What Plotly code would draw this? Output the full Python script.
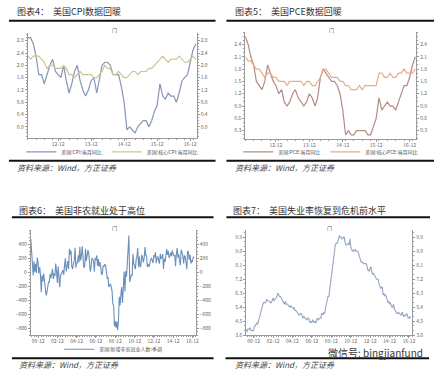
import plotly.graph_objects as go
import pandas as pd

W, H = 440, 377

# ---------------- data ----------------
months_short = pd.date_range("2012-01-01", "2017-02-01", freq="MS")
months_long = pd.date_range("2000-03-01", "2017-02-01", freq="MS")

cpi_yoy = [2.9, 2.9, 2.7, 2.3, 1.7, 1.7, 1.4, 1.7, 2.0, 2.2, 1.8, 1.7,
           1.6, 2.0, 1.5, 1.1, 1.4, 1.8, 2.0, 1.5, 1.2, 1.0, 1.2, 1.5,
           1.6, 1.1, 1.5, 2.0, 2.1, 2.1, 2.0, 1.7, 1.7, 1.7, 1.3, 0.8,
           -0.1, 0.0, -0.1, -0.2, 0.0, 0.1, 0.2, 0.2, 0.0, 0.2, 0.5, 0.7,
           1.4, 1.0, 0.9, 1.1, 1.0, 1.0, 0.8, 1.1, 1.5, 1.6, 1.7, 2.1,
           2.5, 2.7]
core_cpi_yoy = [2.3, 2.2, 2.3, 2.3, 2.3, 2.2, 2.1, 1.9, 2.0, 2.0, 1.9, 1.9,
                1.9, 2.0, 1.9, 1.7, 1.7, 1.6, 1.7, 1.8, 1.7, 1.7, 1.7, 1.7,
                1.6, 1.6, 1.7, 1.8, 2.0, 1.9, 1.9, 1.7, 1.7, 1.8, 1.7, 1.6,
                1.6, 1.7, 1.8, 1.8, 1.7, 1.8, 1.8, 1.8, 1.9, 1.9, 2.0, 2.1,
                2.2, 2.3, 2.2, 2.1, 2.2, 2.2, 2.2, 2.3, 2.2, 2.1, 2.1, 2.2,
                2.3, 2.2]
pce_yoy = [2.6, 2.4, 2.1, 1.9, 1.5, 1.4, 1.3, 1.5, 1.9, 1.7, 1.5, 1.4,
           1.2, 1.3, 1.0, 0.9, 1.0, 1.2, 1.3, 1.1, 1.0, 0.9, 1.0, 1.2,
           1.1, 0.9, 1.1, 1.6, 1.8, 1.7, 1.6, 1.5, 1.5, 1.4, 1.2, 0.8,
           0.2, 0.3, 0.2, 0.2, 0.3, 0.3, 0.3, 0.3, 0.2, 0.2, 0.4, 0.6,
           1.1, 0.8, 0.9, 1.0, 0.9, 0.9, 0.8, 1.0, 1.2, 1.4, 1.4, 1.6,
           1.9, 2.1]
core_pce_yoy = [2.1, 2.0, 2.0, 1.9, 1.8, 1.8, 1.7, 1.6, 1.7, 1.7, 1.6, 1.6,
                1.5, 1.5, 1.5, 1.4, 1.5, 1.5, 1.5, 1.5, 1.5, 1.4, 1.5, 1.5,
                1.4, 1.4, 1.5, 1.6, 1.8, 1.8, 1.7, 1.6, 1.6, 1.6, 1.5, 1.5,
                1.4, 1.4, 1.3, 1.3, 1.3, 1.4, 1.3, 1.4, 1.4, 1.4, 1.4, 1.4,
                1.7, 1.7, 1.6, 1.6, 1.7, 1.6, 1.6, 1.7, 1.7, 1.8, 1.7, 1.7,
                1.7, 1.8]
nonfarm_change = [472, 286, 228, -46, 157, 0, 120, -12, 208, 138,
                  -17, 70, -30, -284, -45, -130, -21, -154, -241, -331, -293, -178,
                  -134, -149, -24, -83, -9, 44, -97, -15, -55, 124, 8, -153,
                  83, -156, -214, -49, -10, 6, 27, -40, 104, 200, 12, 117,
                  160, 45, 335, 250, 310, 80, 45, 123, 163, 350, 65, 135,
                  135, 240, 143, 363, 168, 243, 370, 195, 63, 83, 334, 159,
                  278, 314, 283, 181, 8, 80, 203, 182, 159, 8, 204, 171,
                  239, 90, 189, 79, 143, 75, -34, -20, 88, 84, 114, 98,
                  17, -84, -78, -210, -185, -165, -209, -266, -452, -473, -770, -695,
                  -791, -703, -823, -686, -351, -470, -329, -212, -438, -178, 10, -275,
                  14, -63, 164, 243, 524, -137, -68, -36, -52, 262, 119, 87,
                  43, 189, 225, 346, 77, 225, 69, 110, 248, 209, 141, 209,
                  358, 237, 233, 78, 115, 76, 143, 177, 203, 146, 132, 244,
                  211, 286, 130, 197, 226, 162, 122, 261, 190, 212, 258, 47,
                  190, 151, 272, 329, 246, 304, 202, 230, 280, 227, 312, 255,
                  234, 238, 86, 262, 344, 206, 254, 157, 100, 321, 272, 239,
                  126, 237, 225, 153, 43, 297, 291, 176, 249, 124, 164, 155,
                  216, 219]
unemployment = [4.0, 3.8, 4.0, 4.0, 4.0, 4.1, 3.9, 3.9, 3.9, 3.9,
                4.2, 4.2, 4.3, 4.4, 4.3, 4.5, 4.6, 4.9, 5.0, 5.3, 5.5, 5.7,
                5.7, 5.7, 5.7, 5.9, 5.8, 5.8, 5.8, 5.7, 5.7, 5.7, 5.9, 6.0,
                5.8, 5.9, 5.9, 6.0, 6.1, 6.3, 6.2, 6.1, 6.1, 6.0, 5.8, 5.7,
                5.7, 5.6, 5.8, 5.6, 5.6, 5.6, 5.5, 5.4, 5.4, 5.5, 5.4, 5.4,
                5.3, 5.4, 5.2, 5.2, 5.1, 5.0, 5.0, 4.9, 5.0, 5.0, 5.0, 4.9,
                4.7, 4.8, 4.7, 4.7, 4.6, 4.6, 4.7, 4.7, 4.5, 4.4, 4.5, 4.4,
                4.6, 4.5, 4.4, 4.5, 4.4, 4.6, 4.7, 4.6, 4.7, 4.7, 4.7, 5.0,
                5.0, 4.9, 5.1, 5.0, 5.4, 5.6, 5.8, 6.1, 6.1, 6.5, 6.8, 7.3,
                7.8, 8.3, 8.7, 9.0, 9.4, 9.5, 9.5, 9.6, 9.8, 10.0, 9.9, 9.9,
                9.8, 9.8, 9.9, 9.9, 9.6, 9.4, 9.4, 9.5, 9.5, 9.4, 9.8, 9.3,
                9.1, 9.0, 9.0, 9.1, 9.0, 9.1, 9.0, 9.0, 9.0, 8.8, 8.6, 8.5,
                8.3, 8.3, 8.2, 8.2, 8.2, 8.2, 8.2, 8.1, 7.8, 7.8, 7.7, 7.9,
                8.0, 7.7, 7.5, 7.6, 7.5, 7.5, 7.3, 7.2, 7.2, 7.2, 6.9, 6.7,
                6.6, 6.7, 6.7, 6.2, 6.3, 6.1, 6.2, 6.1, 5.9, 5.7, 5.8, 5.6,
                5.7, 5.5, 5.4, 5.4, 5.6, 5.3, 5.2, 5.1, 5.0, 5.0, 5.1, 5.0,
                4.9, 4.9, 5.0, 5.1, 4.8, 4.9, 4.8, 4.9, 5.0, 4.9, 4.7, 4.7,
                4.8, 4.7]

short_tick_dates = ["2012-12-01", "2013-12-01", "2014-12-01", "2015-12-01", "2016-12-01"]
short_tick_labels = ["12-12", "13-12", "14-12", "15-12", "16-12"]
long_tick_dates = ["2000-12-01", "2002-12-01", "2004-12-01", "2006-12-01", "2008-12-01",
                   "2010-12-01", "2012-12-01", "2014-12-01", "2016-12-01"]
long_tick_labels = ["00-12", "02-12", "04-12", "06-12", "08-12", "10-12", "12-12", "14-12", "16-12"]

cpi_ticks = [0.0, 0.4, 0.8, 1.2, 1.6, 2.0, 2.4, 2.8]
pce_ticks = [0.3, 0.6, 0.9, 1.2, 1.5, 1.8, 2.1, 2.4]
nfp_ticks = [-800, -600, -400, -200, 0, 200, 400]
ur_ticks = [3.6, 4.5, 5.4, 6.3, 7.2, 8.1, 9.0, 9.9]

titles = ["图表4：  美国CPI数据回暖", "图表5：  美国PCE数据回暖",
          "图表6：  美国非农就业处于高位", "图表7：  美国失业率恢复到危机前水平"]
source_text = "资料来源：Wind，方正证券"
legend_names = ["美国:CPI:当月同比", "美国:核心CPI:当月同比",
                "美国:PCE:当月同比", "美国:核心PCE:当月同比",
                "美国:新增非农就业人数:季调"]

# ---------------- layout helpers ----------------
FONT = "Noto Sans CJK SC"
AXC = "#9a9a9a"
TICKC = "#666666"


def xd(a, b):
    return [a / W, b / W]


def yd(top, bottom):
    return [1 - bottom / H, 1 - top / H]


fig = go.Figure()

# panel 1
fig.add_trace(go.Scatter(x=months_short, y=cpi_yoy, mode="lines", name=legend_names[0],
                         line=dict(color="#8596b6", width=1.2), xaxis="x", yaxis="y", legend="legend"))
fig.add_trace(go.Scatter(x=months_short, y=core_cpi_yoy, mode="lines", name=legend_names[1],
                         line=dict(color="#cfc48e", width=1.2), xaxis="x", yaxis="y2", legend="legend"))
# panel 2
fig.add_trace(go.Scatter(x=months_short, y=pce_yoy, mode="lines", name=legend_names[2],
                         line=dict(color="#b48b83", width=1.2), xaxis="x2", yaxis="y3", legend="legend2"))
fig.add_trace(go.Scatter(x=months_short, y=core_pce_yoy, mode="lines", name=legend_names[3],
                         line=dict(color="#e9ad86", width=1.2), xaxis="x2", yaxis="y4", legend="legend2"))
# panel 3
fig.add_trace(go.Scatter(x=months_long, y=nonfarm_change, mode="lines", name=legend_names[4],
                         line=dict(color="#6b8fbb", width=1.1), xaxis="x3", yaxis="y5", legend="legend3"))
fig.add_trace(go.Scatter(x=months_long, y=nonfarm_change, mode="lines", showlegend=False,
                         hoverinfo="skip", opacity=0, xaxis="x3", yaxis="y6"))
# panel 4
fig.add_trace(go.Scatter(x=months_long, y=unemployment, mode="lines", showlegend=False,
                         line=dict(color="#95a7c2", width=1.1), xaxis="x4", yaxis="y7"))
fig.add_trace(go.Scatter(x=months_long, y=unemployment, mode="lines", showlegend=False,
                         hoverinfo="skip", opacity=0, xaxis="x4", yaxis="y8"))


def xaxis(domain, anchor, rng, tv, tt):
    return dict(domain=domain, anchor=anchor, type="date", range=rng,
                tickvals=tv, ticktext=tt, showline=True, linecolor=AXC, linewidth=1,
                ticks="outside", ticklen=2, tickcolor=AXC, showgrid=False, zeroline=False,
                ticklabelstandoff=-1,
                tickfont=dict(size=5, color=TICKC, family=FONT),
                minor=dict(ticks="outside", ticklen=1, tickcolor=AXC, dtick="M3"))


def yaxis(domain, anchor, rng, tv, fmt, side="left", overlay=None, minor_dt=None):
    d = dict(domain=domain, anchor=anchor, range=rng, tickvals=tv, tickformat=fmt,
             side=side, showline=True, linecolor=AXC, linewidth=1, ticks="outside",
             ticklen=2, tickcolor=AXC, showgrid=False, zeroline=False,
             tickfont=dict(size=5, color=TICKC, family=FONT))
    if minor_dt is not None:
        d["minor"] = dict(ticks="outside", ticklen=1, tickcolor=AXC, dtick=minor_dt)
    if overlay:
        d["overlaying"] = overlay
        d.pop("domain")
    return d


p1x, p1y = xd(28, 198), yd(33, 139)
p2x, p2y = xd(247, 419), yd(32, 140)
p3x, p3y = xd(31, 197), yd(232, 338)
p4x, p4y = xd(248, 415), yd(232, 338)

short_rng = ["2012-01-01", "2017-02-10"]
long_rng = ["2000-03-01", "2017-04-01"]

fig.update_layout(
    width=W, height=H, margin=dict(l=0, r=0, t=0, b=0),
    paper_bgcolor="white", plot_bgcolor="white",
    font=dict(family=FONT, color="#333333"),
    xaxis=xaxis(p1x, "y", short_rng, short_tick_dates, short_tick_labels),
    yaxis=yaxis(p1y, "x", [-0.36, 3.06], cpi_ticks, ".1f", minor_dt=0.1),
    yaxis2=yaxis(p1y, "x", [-0.36, 3.06], cpi_ticks, ".1f", side="right", overlay="y", minor_dt=0.1),
    xaxis2=xaxis(p2x, "y3", short_rng, short_tick_dates, short_tick_labels),
    yaxis3=yaxis(p2y, "x2", [0.1, 2.71], pce_ticks, ".1f", minor_dt=0.1),
    yaxis4=yaxis(p2y, "x2", [0.1, 2.71], pce_ticks, ".1f", side="right", overlay="y3", minor_dt=0.1),
    xaxis3=xaxis(p3x, "y5", long_rng, long_tick_dates, long_tick_labels),
    yaxis5=yaxis(p3y, "x3", [-900, 600], nfp_ticks, "d", minor_dt=50),
    yaxis6=yaxis(p3y, "x3", [-900, 600], nfp_ticks, "d", side="right", overlay="y5", minor_dt=50),
    xaxis4=xaxis(p4x, "y7", long_rng, long_tick_dates, long_tick_labels),
    yaxis7=yaxis(p4y, "x4", [3.6, 10.35], ur_ticks, ".1f", minor_dt=0.3),
    yaxis8=yaxis(p4y, "x4", [3.6, 10.35], ur_ticks, ".1f", side="right", overlay="y7", minor_dt=0.3),
    legend=dict(orientation="h", x=113 / W, y=1 - 153 / H, xanchor="center", yanchor="middle",
                font=dict(size=5, color="#555", family=FONT), bgcolor="rgba(0,0,0,0)",
                itemwidth=30),
    legend2=dict(orientation="h", x=333 / W, y=1 - 153 / H, xanchor="center", yanchor="middle",
                 font=dict(size=5, color="#555", family=FONT), bgcolor="rgba(0,0,0,0)",
                 itemwidth=30),
    legend3=dict(orientation="h", x=114 / W, y=1 - 352 / H, xanchor="center", yanchor="middle",
                 font=dict(size=5, color="#555", family=FONT), bgcolor="rgba(0,0,0,0)",
                 itemwidth=30),
    showlegend=True,
)

# titles, sources, unit marks
title_pos = [(15, 12), (235, 12), (17, 212), (233, 212)]
source_pos = [(15, 169), (235, 169), (17, 367), (235, 367)]
mark_pos = [(115, 30), (334, 30), (115, 230), (332, 230)]
rules_top = [(9, 217, 21), (228, 437, 21), (12, 215, 219), (228, 433, 219)]
rules_bottom = [(9, 217, 162), (228, 437, 162), (12, 215, 361), (227, 432, 361)]

for t, (x, y) in zip(titles, title_pos):
    fig.add_annotation(text=t, x=x / W, y=1 - y / H, xref="paper", yref="paper",
                       xanchor="left", yanchor="middle", showarrow=False,
                       font=dict(size=9, color="#333333", family=FONT))
for (x, y) in source_pos:
    fig.add_annotation(text="<i>" + source_text + "</i>", x=x / W, y=1 - y / H,
                       xref="paper", yref="paper", xanchor="left", yanchor="middle",
                       showarrow=False, font=dict(size=8, color="#444444", family=FONT))
for (x, y) in mark_pos:
    fig.add_annotation(text="门", x=x / W, y=1 - y / H, xref="paper", yref="paper",
                       xanchor="center", yanchor="middle",
                       showarrow=False, font=dict(size=5, color="#555555", family=FONT))
for (a, b, y) in rules_top + rules_bottom:
    fig.add_shape(type="line", xref="paper", yref="paper", x0=a / W, x1=b / W,
                  y0=1 - y / H, y1=1 - y / H, line=dict(color="#111111", width=2))

# watermark
fig.add_annotation(text="微信号: bingjianfund", x=428 / W, y=1 - 355 / H, xref="paper", yref="paper",
                   xanchor="right", yanchor="middle",
                   showarrow=False, font=dict(size=10, color="#3a3a3a", family=FONT))

fig.write_html("out.html", config={"displayModeBar": False},
               post_script="document.body.style.margin='0';document.body.style.overflow='hidden';")
